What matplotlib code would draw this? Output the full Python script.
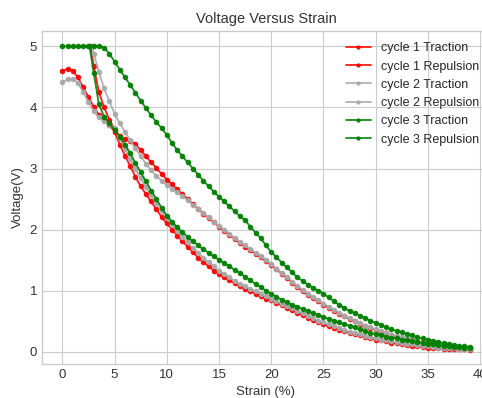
import matplotlib
matplotlib.use("Agg")
import matplotlib.pyplot as plt

plt.style.use("seaborn-v0_8-whitegrid")
plt.rcParams["font.family"] = ["Liberation Sans", "DejaVu Sans"]

# strain grid (%), typed
strain_grid = [
    0.0, 0.5, 1.0, 1.5, 2.0, 2.5, 3.0, 3.5, 4.0, 4.5,
    5.0, 5.5, 6.0, 6.5, 7.0, 7.5, 8.0, 8.5, 9.0, 9.5,
    10.0, 10.5, 11.0, 11.5, 12.0, 12.5, 13.0, 13.5, 14.0, 14.5,
    15.0, 15.5, 16.0, 16.5, 17.0, 17.5, 18.0, 18.5, 19.0, 19.5,
    20.0, 20.5, 21.0, 21.5, 22.0, 22.5, 23.0, 23.5, 24.0, 24.5,
    25.0, 25.5, 26.0, 26.5, 27.0, 27.5, 28.0, 28.5, 29.0, 29.5,
    30.0, 30.5, 31.0, 31.5, 32.0, 32.5, 33.0, 33.5, 34.0, 34.5,
    35.0, 35.5, 36.0, 36.5, 37.0, 37.5, 38.0, 38.5, 39.0,
]

c1_trac_strain = strain_grid
c1_trac_volt = [
    4.60, 4.63, 4.60, 4.49, 4.33, 4.17, 4.01, 3.88, 3.80, 3.72,
    3.60, 3.39, 3.21, 3.04, 2.86, 2.71, 2.58, 2.46, 2.33, 2.21,
    2.10, 2.00, 1.90, 1.81, 1.72, 1.63, 1.54, 1.47, 1.40, 1.33,
    1.27, 1.22, 1.17, 1.12, 1.07, 1.03, 0.99, 0.95, 0.91, 0.87,
    0.84, 0.80, 0.76, 0.72, 0.68, 0.64, 0.60, 0.56, 0.52, 0.48,
    0.45, 0.42, 0.39, 0.36, 0.34, 0.31, 0.29, 0.27, 0.24, 0.22,
    0.20, 0.19, 0.17, 0.15, 0.14, 0.13, 0.11, 0.10, 0.09, 0.08,
    0.07, 0.07, 0.06, 0.05, 0.05, 0.04, 0.04, 0.04, 0.03,
]

c1_rep_strain = [2.7] + strain_grid[6:]
c1_rep_volt = [
    5.00,
    4.68, 4.25, 4.00, 3.80,
    3.64, 3.53, 3.48, 3.45, 3.40, 3.30, 3.20, 3.10, 3.01, 2.91,
    2.82, 2.74, 2.66, 2.58, 2.50, 2.42, 2.34, 2.26, 2.19, 2.12,
    2.05, 1.98, 1.91, 1.85, 1.78, 1.72, 1.66, 1.60, 1.55, 1.48,
    1.42, 1.35, 1.28, 1.21, 1.13, 1.06, 0.99, 0.93, 0.88, 0.83,
    0.77, 0.72, 0.67, 0.62, 0.58, 0.54, 0.50, 0.46, 0.42, 0.39,
    0.36, 0.33, 0.30, 0.28, 0.25, 0.23, 0.21, 0.19, 0.17, 0.16,
    0.14, 0.13, 0.11, 0.10, 0.09, 0.08, 0.07, 0.06, 0.05,
]

c2_trac_strain = strain_grid
c2_trac_volt = [
    4.41, 4.46, 4.47, 4.40, 4.25, 4.09, 3.94, 3.84, 3.77, 3.72,
    3.66, 3.50, 3.32, 3.15, 2.99, 2.84, 2.70, 2.56, 2.43, 2.31,
    2.19, 2.08, 1.98, 1.88, 1.79, 1.70, 1.62, 1.54, 1.47, 1.40,
    1.33, 1.27, 1.22, 1.16, 1.11, 1.07, 1.03, 0.99, 0.95, 0.91,
    0.87, 0.83, 0.79, 0.75, 0.71, 0.67, 0.63, 0.59, 0.55, 0.51,
    0.48, 0.45, 0.42, 0.39, 0.36, 0.33, 0.31, 0.29, 0.26, 0.24,
    0.22, 0.20, 0.19, 0.17, 0.16, 0.14, 0.13, 0.12, 0.11, 0.10,
    0.09, 0.08, 0.07, 0.07, 0.06, 0.06, 0.05, 0.05, 0.05,
]

c2_rep_strain = [2.9] + strain_grid[6:]
c2_rep_volt = [
    5.00,
    4.88, 4.58, 4.31, 4.10,
    3.90, 3.74, 3.60, 3.46, 3.33, 3.20, 3.08, 2.97, 2.88, 2.80,
    2.73, 2.67, 2.61, 2.55, 2.48, 2.41, 2.34, 2.27, 2.20, 2.13,
    2.06, 2.00, 1.93, 1.86, 1.80, 1.74, 1.68, 1.62, 1.56, 1.50,
    1.43, 1.36, 1.29, 1.22, 1.15, 1.08, 1.01, 0.95, 0.90, 0.84,
    0.79, 0.74, 0.69, 0.64, 0.59, 0.55, 0.51, 0.47, 0.43, 0.40,
    0.37, 0.34, 0.31, 0.28, 0.26, 0.24, 0.22, 0.20, 0.18, 0.16,
    0.15, 0.13, 0.12, 0.10, 0.09, 0.08, 0.07, 0.06, 0.05,
]

c3_trac_strain = strain_grid
c3_trac_volt = [
    5.00, 5.00, 5.00, 5.00, 5.00, 5.00, 5.00, 5.00, 4.98, 4.88,
    4.75, 4.62, 4.49, 4.37, 4.24, 4.11, 3.99, 3.87, 3.76, 3.66,
    3.55, 3.42, 3.30, 3.20, 3.10, 3.00, 2.90, 2.80, 2.71, 2.62,
    2.54, 2.46, 2.38, 2.30, 2.22, 2.15, 2.05, 1.95, 1.86, 1.74,
    1.63, 1.55, 1.46, 1.38, 1.30, 1.22, 1.16, 1.10, 1.05, 1.00,
    0.95, 0.89, 0.83, 0.77, 0.72, 0.67, 0.63, 0.59, 0.55, 0.51,
    0.47, 0.44, 0.40, 0.37, 0.34, 0.32, 0.29, 0.27, 0.24, 0.22,
    0.20, 0.18, 0.16, 0.14, 0.13, 0.11, 0.10, 0.09, 0.08,
]

c3_rep_strain = [2.6] + strain_grid[6:]
c3_rep_volt = [
    5.00,
    4.57, 4.05, 3.85, 3.74,
    3.63, 3.52, 3.39, 3.25, 3.09, 2.94, 2.79, 2.64, 2.50, 2.36,
    2.23, 2.13, 2.04, 1.96, 1.88, 1.81, 1.74, 1.68, 1.62, 1.56,
    1.51, 1.45, 1.40, 1.34, 1.29, 1.23, 1.17, 1.11, 1.06, 1.00,
    0.95, 0.90, 0.85, 0.81, 0.77, 0.74, 0.70, 0.67, 0.63, 0.60,
    0.57, 0.54, 0.51, 0.48, 0.45, 0.43, 0.40, 0.37, 0.34, 0.31,
    0.29, 0.27, 0.25, 0.23, 0.22, 0.20, 0.19, 0.17, 0.16, 0.14,
    0.13, 0.12, 0.11, 0.10, 0.09, 0.08, 0.08, 0.07, 0.07,
]

series = [
    ("cycle 1 Traction", c1_trac_strain, c1_trac_volt, "red"),
    ("cycle 1 Repulsion", c1_rep_strain, c1_rep_volt, "red"),
    ("cycle 2 Traction", c2_trac_strain, c2_trac_volt, "darkgray"),
    ("cycle 2 Repulsion", c2_rep_strain, c2_rep_volt, "darkgray"),
    ("cycle 3 Traction", c3_trac_strain, c3_trac_volt, "green"),
    ("cycle 3 Repulsion", c3_rep_strain, c3_rep_volt, "green"),
]

fig = plt.figure(figsize=(4.82, 3.98), dpi=100)
ax = fig.add_axes([0.0871, 0.0854, 0.9295, 0.8366])

for label, xs, ys, color in series:
    ax.plot(xs, ys, marker=".", markersize=6, linewidth=1.3, color=color,
            alpha=0.9, label=label)

ax.set_xlim(-1.95, 40.95)
ax.set_ylim(-0.2, 5.25)
ax.set_xticks([0, 5, 10, 15, 20, 25, 30, 35, 40])
ax.set_yticks([0, 1, 2, 3, 4, 5])
ax.tick_params(labelsize=9.5, colors="#333333")
for s in ax.spines.values():
    s.set_color("#cccccc")
    s.set_linewidth(1.0)
ax.set_title("Voltage Versus Strain", fontsize=10.5, color="#333333")
ax.set_xlabel("Strain (%)", fontsize=9.5, color="#333333")
ax.set_ylabel("Voltage(V)", fontsize=9.5, color="#333333")
ax.legend(loc="upper right", fontsize=9, frameon=False, markerscale=0.7)

fig.savefig("out.png", dpi=100)
